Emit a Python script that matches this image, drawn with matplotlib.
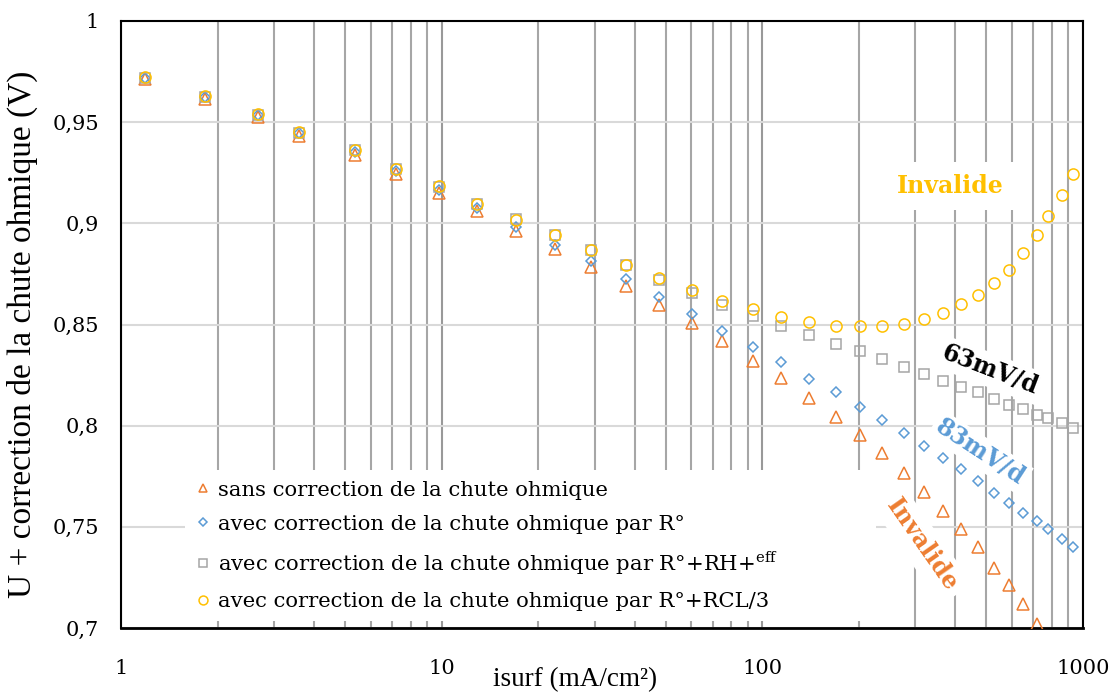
import numpy as np
import matplotlib
matplotlib.use('Agg')
import matplotlib.pyplot as plt
from matplotlib.ticker import FixedLocator, NullFormatter
from matplotlib.patches import Rectangle

# current density (mA/cm2)
isurf = [1.19, 1.83, 2.67, 3.59, 5.37, 7.22, 9.83, 12.9, 17.1, 22.5, 29.2, 37.6, 47.6,
         60.3, 74.6, 93.7, 114.5, 140, 169.7, 202, 236, 277.5, 320, 367, 416, 469, 528,
         587, 652, 718, 780, 860, 934]

# sans correction
u_sans = [0.9715, 0.9616, 0.9527, 0.943, 0.9339, 0.9245, 0.915, 0.906, 0.896, 0.8873,
          0.8784, 0.8692, 0.8596, 0.8507, 0.8419, 0.832, 0.8235, 0.8136, 0.8045, 0.7954,
          0.7863, 0.7764, 0.7673, 0.7578, 0.7487, 0.7398, 0.7299, 0.7211, 0.7121, 0.7022,
          np.nan, np.nan, np.nan]
# correction par R°
u_r0 = [0.972, 0.9624, 0.9535, 0.9444, 0.9355, 0.9261, 0.9167, 0.9074, 0.898, 0.8893,
        0.8812, 0.8723, 0.8634, 0.855, 0.8469, 0.8388, 0.8314, 0.8231, 0.8167, 0.8093,
        0.8028, 0.7965, 0.79, 0.7839, 0.7784, 0.7726, 0.7668, 0.7619, 0.7569, 0.753,
        0.7487, 0.7438, 0.7398]
# correction par R°+RH+eff
u_rh = [0.972, 0.9626, 0.9537, 0.9448, 0.936, 0.927, 0.918, 0.9095, 0.902, 0.8942,
        0.887, 0.8795, 0.8721, 0.8655, 0.8597, 0.8543, 0.8494, 0.8446, 0.8404, 0.837,
        0.833, 0.8289, 0.8256, 0.8223, 0.8192, 0.8165, 0.8134, 0.8101, 0.8084, 0.8053,
        0.8037, 0.8012, 0.7987]
# correction par R°+RCL/3
u_rcl = [0.9722, 0.9628, 0.9539, 0.945, 0.9361, 0.9271, 0.9183, 0.9098, 0.9015, 0.8944,
         0.887, 0.8796, 0.873, 0.8672, 0.8614, 0.8576, 0.8535, 0.8512, 0.8494, 0.8494,
         0.8494, 0.8503, 0.8527, 0.8558, 0.8601, 0.8647, 0.8705, 0.8771, 0.8853, 0.8943,
         0.9035, 0.9141, 0.9246]

labels = ['sans correction de la chute ohmique',
          'avec correction de la chute ohmique par R°',
          'avec correction de la chute ohmique par R°+RH+$^{\\mathregular{eff}}$',
          'avec correction de la chute ohmique par R°+RCL/3']
colors = ['#ED7D31', '#5B9BD5', '#A5A5A5', '#FFC000']

yticks = [0.7, 0.75, 0.8, 0.85, 0.9, 0.95, 1.0]
ytick_labels = ['0,7', '0,75', '0,8', '0,85', '0,9', '0,95', '1']
xticks = [1, 10, 100, 1000]
xtick_labels = ['1', '10', '100', '1000']

fig = plt.figure(figsize=(11.17, 6.93), dpi=100)
ax = fig.add_axes([121 / 1117, 1 - 628 / 693, 962 / 1117, 607 / 693])

ax.plot(isurf, u_sans, ls='none', marker='^', ms=8, mfc='none', mec=colors[0], mew=1.1,
        label=labels[0], zorder=3)
ax.plot(isurf, u_r0, ls='none', marker='D', ms=5, mfc='none', mec=colors[1], mew=1.1,
        label=labels[1], zorder=3)
ax.plot(isurf, u_rh, ls='none', marker='s', ms=7.3, mfc='none', mec=colors[2], mew=1.1,
        label=labels[2], zorder=3)
ax.plot(isurf, u_rcl, ls='none', marker='o', ms=8, mfc='none', mec=colors[3], mew=1.1,
        label=labels[3], zorder=3)

ax.set_xscale('log')
ax.set_xlim(1, 1000)
ax.set_ylim(0.7, 1.0)
ax.set_xticks(xticks)
ax.set_xticklabels(xtick_labels)
minor = [m * 10 ** d for d in range(3) for m in range(2, 10)]
ax.xaxis.set_minor_locator(FixedLocator(minor))
ax.xaxis.set_minor_formatter(NullFormatter())
ax.set_yticks(yticks)
ax.set_yticklabels(ytick_labels)

ax.set_axisbelow(True)
ax.grid(which='minor', axis='x', color='#A6A6A6', lw=1.5)
ax.grid(which='major', axis='x', color='#999999', lw=1.5)
ax.grid(which='major', axis='y', color='#D9D9D9', lw=1.5)
ax.tick_params(which='both', length=0)
ax.tick_params(axis='x', pad=22)
ax.tick_params(axis='y', pad=16)
for lab in ax.get_xticklabels() + ax.get_yticklabels():
    lab.set_fontfamily('DejaVu Serif')
    lab.set_fontsize(15)

for sp in ax.spines.values():
    sp.set_color('black')
    sp.set_linewidth(1.5)
ax.spines['bottom'].set_linewidth(2)

# white area behind the legend
ax.add_patch(Rectangle((64 / 962, 7 / 607), 691 / 962, 151 / 607, transform=ax.transAxes,
                       facecolor='white', edgecolor='none', zorder=1))
leg = ax.legend(loc='lower left', bbox_to_anchor=(0.0615, 0.0), frameon=False,
                prop={'family': 'DejaVu Serif', 'size': 15.2}, handlelength=0.6,
                handletextpad=0.4, labelspacing=0.72, borderpad=0.3, markerscale=0.8)
leg.set_zorder(4)

fig.text(575 / 1117, 1 - 680 / 693, 'isurf (mA/cm²)', ha='center', va='center',
         family='Liberation Serif', fontsize=19.5)
fig.text(22 / 1117, 1 - 334 / 693, 'U + correction de la chute ohmique (V)', ha='center',
         va='center', rotation=90, family='Liberation Serif', fontsize=24)

# annotations
box = dict(facecolor='white', edgecolor='none', boxstyle='square,pad=0.5')
ax.text(950 / 1117, 1 - 186 / 693, 'Invalide', transform=fig.transFigure, ha='center',
        va='center', color='#FFC000', fontsize=17, fontweight='bold', family='DejaVu Serif',
        bbox=box, zorder=2)
ax.text(990 / 1117, 1 - 370 / 693, '63mV/d', transform=fig.transFigure, ha='center',
        va='center', color='black', fontsize=17, fontweight='bold', family='DejaVu Serif',
        rotation=-21, rotation_mode='anchor', bbox=dict(facecolor='white', edgecolor='none',
                                                         boxstyle='square,pad=0.2'), zorder=2)
ax.text(980 / 1117, 1 - 452 / 693, '83mV/d', transform=fig.transFigure, ha='center',
        va='center', color='#5B9BD5', fontsize=17, fontweight='bold', family='DejaVu Serif',
        rotation=-33, rotation_mode='anchor', bbox=dict(facecolor='white', edgecolor='none',
                                                         boxstyle='square,pad=0.15'), zorder=2)
ax.text(922 / 1117, 1 - 545 / 693, 'Invalide', transform=fig.transFigure, ha='center',
        va='center', color='#ED7D31', fontsize=17, fontweight='bold', family='DejaVu Serif',
        rotation=-55, rotation_mode='anchor', bbox=dict(facecolor='white', edgecolor='none',
                                                         boxstyle='square,pad=0.3'), zorder=4)

fig.savefig('out.png', dpi=100)
